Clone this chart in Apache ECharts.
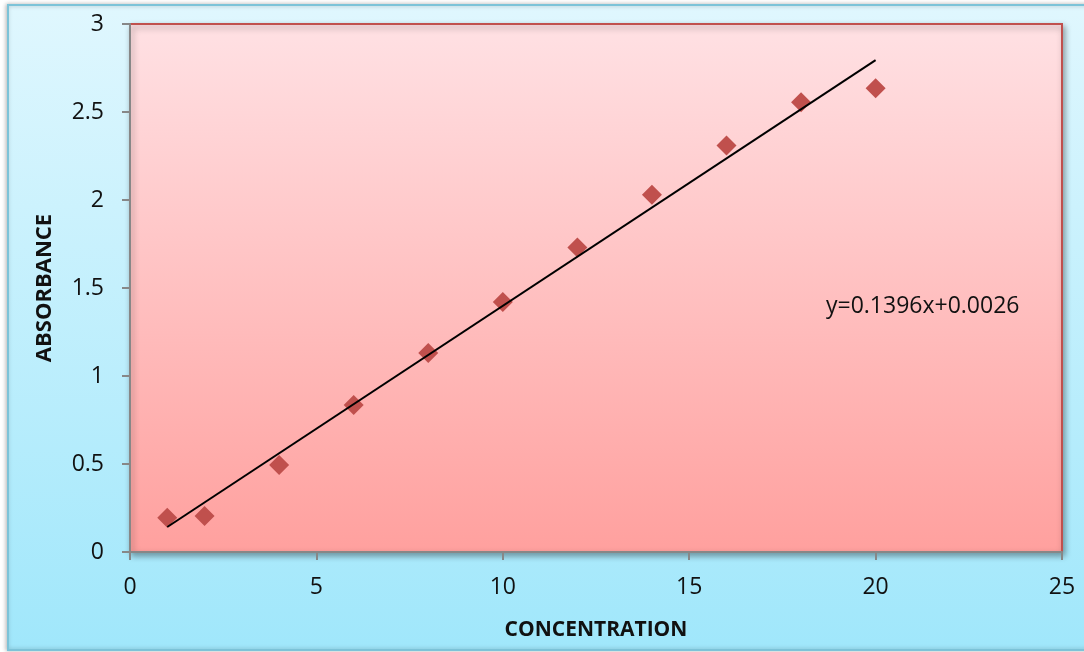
<!DOCTYPE html>
<html>
<head>
<meta charset="utf-8">
<title>Absorbance vs Concentration</title>
<script src="https://cdn.jsdelivr.net/npm/echarts@6/dist/echarts.min.js"></script>
<style>
  html, body { margin: 0; padding: 0; background: #ffffff; }
  #chart { width: 1084px; height: 652px; }
</style>
</head>
<body>
<div id="chart"></div>
<script>
// Calibration readings
const concentration = [1, 2, 4, 6, 8, 10, 12, 14, 16, 18, 20];
const absorbance = [0.195, 0.205, 0.495, 0.835, 1.13, 1.42, 1.73, 2.03, 2.31, 2.555, 2.635];

// Linear fit reported on the chart
const slope = 0.1396;
const intercept = 0.0026;
const fitRange = [1, 20];
const equationText = 'y=0.1396x+0.0026';

const xTitle = 'CONCENTRATION';
const yTitle = 'ABSORBANCE';

const fitLine = fitRange.map(x => [x, slope * x + intercept]);
const points = concentration.map((c, i) => [c, absorbance[i]]);

const FONT = '"Open Sans", "Liberation Sans", sans-serif';

const chart = echarts.init(document.getElementById('chart'), null, { renderer: 'canvas' });

chart.setOption({
  backgroundColor: '#ffffff',
  animation: false,
  graphic: [
    {
      type: 'rect',
      z: -10,
      silent: true,
      shape: { x: 8, y: 5, width: 1100, height: 645 },
      style: {
        fill: new echarts.graphic.LinearGradient(0, 0, 0, 1, [
          { offset: 0, color: '#e0f7fe' },
          { offset: 1, color: '#a0e7fb' }
        ]),
        stroke: '#7cc3d8',
        lineWidth: 2,
        shadowBlur: 4,
        shadowColor: 'rgba(0,0,0,0.25)',
        shadowOffsetX: -1
      }
    },
    {
      type: 'text',
      left: 826,
      top: 295,
      z: 10,
      style: {
        text: equationText,
        font: '23px ' + FONT,
        fill: '#111111'
      }
    }
  ],
  grid: {
    left: 130,
    top: 24,
    width: 932,
    height: 528,
    show: true,
    backgroundColor: new echarts.graphic.LinearGradient(0, 0, 0, 1, [
      { offset: 0, color: '#ffe1e4' },
      { offset: 1, color: '#ffa09e' }
    ]),
    borderColor: '#c0504d',
    borderWidth: 2,
    shadowBlur: 6,
    shadowColor: 'rgba(0,0,0,0.35)',
    shadowOffsetX: 2,
    shadowOffsetY: 3
  },
  xAxis: {
    type: 'value',
    min: 0,
    max: 25,
    interval: 5,
    name: xTitle,
    nameLocation: 'middle',
    nameGap: 68,
    nameTextStyle: { fontFamily: FONT, fontSize: 21, fontWeight: 'bold', color: '#111111' },
    axisLine: { show: true, onZero: false, lineStyle: { color: '#878787', width: 2 } },
    axisTick: { show: true, inside: false, length: 8, lineStyle: { color: '#878787', width: 2 } },
    axisLabel: { margin: 24, fontFamily: FONT, fontSize: 23, color: '#111111' },
    splitLine: { show: false }
  },
  yAxis: {
    type: 'value',
    min: 0,
    max: 3,
    interval: 0.5,
    name: yTitle,
    nameLocation: 'middle',
    nameGap: 74,
    nameRotate: 90,
    nameTextStyle: { fontFamily: FONT, fontSize: 22, fontWeight: 'bold', color: '#111111' },
    axisLine: { show: true, onZero: false, lineStyle: { color: '#878787', width: 2 } },
    axisTick: { show: true, inside: false, length: 8, lineStyle: { color: '#878787', width: 2 } },
    axisLabel: { margin: 26, fontFamily: FONT, fontSize: 23, color: '#111111' },
    splitLine: { show: false }
  },
  series: [
    {
      name: 'Absorbance',
      type: 'scatter',
      data: points,
      symbol: 'diamond',
      symbolSize: 20,
      itemStyle: { color: '#c0504d', opacity: 1 },
      z: 3
    },
    {
      name: 'Linear fit',
      type: 'line',
      data: fitLine,
      showSymbol: false,
      symbol: 'none',
      lineStyle: { color: '#000000', width: 2 },
      z: 4
    }
  ]
});
</script>
</body>
</html>
